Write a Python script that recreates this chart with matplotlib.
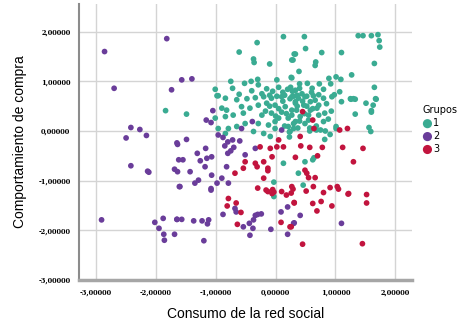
import matplotlib.pyplot as plt

# Grupo 1 (teal)
g1_x = [0.13, -0.31, -0.61, -0.37, -0.36, -0.10, 0.31, 0.27, 0.02, 0.26, -0.75, -0.52, -0.41, -0.30,
        -0.29, -1.01, -0.96, -0.72, -0.61, -0.40, -0.23,
        0.48, 1.38, 1.46, 1.60, 1.71, 1.73, 1.74, 0.50, 0.77, 1.10, 0.33, 0.29, 0.67, 0.66, 1.65, 0.39,
        1.27, 0.27, 0.89, 1.01, 1.09, 0.53, 0.73, 0.92, 1.65, 1.67, 0.61, 0.80, 1.07, 0.98, 1.25, 1.30,
        0.72, 0.52,
        -1.84, -1.49,
        -0.98, -0.84, -0.65, -0.48, -0.34, -0.20, -0.07, 0.10, 0.24, 0.33, -0.90, -0.82, -0.57, -0.43,
        -0.29, -0.15, -0.01, 0.16, 0.27, -1.01, -0.84, -0.71, -0.54, -0.23, -0.07, 0.05, 0.21, -0.96,
        -0.79, -0.65, -0.51, -0.29, -0.12, -0.01, 0.21, 0.30, -0.84, -0.37, -0.20, -0.09, 0.24, -0.01,
        0.27, 0.38, 0.49, 0.63, 0.80, 0.94, 0.33, 0.47, 0.58, 0.72, 0.35, 0.58, 0.69, 0.27, 0.41, 0.55,
        0.72, 0.33, 0.49, 0.80, 0.30,
        -0.15, -0.05, 0.05, 0.12, 0.20, 0.28, -0.10, 0.02, 0.15, 0.30, 0.25, 0.33, 0.40, 0.44, 0.36,
        1.26, 1.33, 1.10, 1.51, 1.68, 1.63, 1.60, 1.60, 1.33, 0.93, 0.82, 0.88, 1.01, 1.01, 1.56, 1.59,
        0.75, 0.83, 0.91, 0.82, 0.57, 0.57, 0.68, 0.23, 0.23, 0.37,
        0.64, 0.62, 0.49, 0.38, 0.46, 0.13, -0.03, -0.03,
        0.05, 0.12, 0.18, 0.36, 0.45, 0.52, 0.62, 0.40, 0.55, 0.10, -0.10, 0.00, 0.48, 0.66, 0.85,
        0.68, 0.15, -0.17, 0.40, 0.60]
g1_y = [1.90, 1.78, 1.59, 1.45, 1.38, 1.35, 1.55, 1.43, 1.03, 1.08, 1.00, 0.96, 1.00, 1.04,
        0.93, 0.84, 0.71, 0.86, 0.74, 0.81, 0.75,
        1.90, 1.92, 1.92, 1.92, 1.94, 1.82, 1.69, 1.66, 1.58, 1.58, 1.55, 1.43, 1.39, 1.32, 1.36, 1.20,
        1.13, 1.07, 1.06, 1.09, 1.04, 0.96, 0.95, 0.95, 0.88, 0.65, 0.86, 0.84, 0.79, 0.73, 0.65, 0.65,
        0.73, 0.70,
        0.41, 0.34,
        0.71, 0.66, 0.63, 0.65, 0.67, 0.69, 0.66, 0.69, 0.65, 0.59, 0.46, 0.42, 0.49, 0.46,
        0.52, 0.56, 0.52, 0.49, 0.42, 0.26, 0.29, 0.32, 0.36, 0.32, 0.36, 0.26, 0.26, 0.05,
        0.05, 0.09, 0.15, 0.15, 0.12, 0.05, 0.09, 0.15, -0.05, -0.01, -0.05, -0.11, -0.01, 0.19,
        0.69, 0.66, 0.69, 0.71, 0.66, 0.69, 0.56, 0.52, 0.59, 0.52, 0.42, 0.42, 0.46, 0.32, 0.29, 0.32,
        0.32, 0.19, 0.15, 0.19, 0.05,
        0.85, 0.80, 0.88, 0.78, 0.84, 0.80, 0.72, 0.70, 0.72, 0.70, 0.88, 0.82, 0.86, 0.75, 0.72,
        0.64, 0.64, 0.59, 0.56, 0.64, 0.52, 0.41, 0.38, 0.34, 0.40, 0.36, 0.24, 0.09, 0.05, 0.07, -0.01,
        0.02, 0.00, -0.07, -0.17, 0.06, 0.00, 0.02, -0.02, -0.12, 0.06,
        -0.54, -0.58, -0.62, -0.85, -1.09, -0.65, -1.03, -1.32,
        0.45, 0.60, 0.35, 0.50, 0.60, 0.50, 0.45, 0.20, 0.22, 0.38, 0.50, 0.30, 0.35, 0.62, 0.55,
        0.10, 0.10, 0.40, 0.95, 0.78]

# Grupo 2 (purple)
g2_x = [-1.82, -2.86, -2.70, -1.74, -1.57, -1.40,
        -2.42, -2.27, -2.50, -2.16, -1.65, -1.64, -2.42, -2.14, -2.12, -1.69, -1.64, -1.61, -1.62,
        -1.05, -1.16, -1.08, -1.49, -1.31, -1.17, -1.55, -1.26, -1.15, -1.07, -1.18, -1.43, -1.07,
        -0.82, -0.90, -1.29, -0.79, -0.98, -1.60, -1.35, -1.08, -0.96, -0.88, -0.85, -0.80, -0.72,
        -0.75, -0.80, -0.70, -0.60, -0.39, -0.57, -0.51, -0.34, 0.10,
        -2.91, -2.02, -1.88, -1.65, -1.95, -1.87, -1.86, -1.69,
        -1.65, -1.57, -1.37, -1.23, -1.12, -1.14, -1.20, -0.88, -0.68, -0.66, -0.54, -0.44, -0.37,
        -0.34, -0.30, -0.24, -0.38, -0.43, -0.08, 0.09, 0.20, 0.30, 0.20, -1.08,
        0.41, 0.31, 1.10]
g2_y = [1.86, 1.60, 0.86, 0.83, 1.03, 1.05,
        0.07, 0.03, -0.14, -0.09, -0.24, -0.27, -0.70, -0.81, -0.83, -0.77, -0.82, -1.12, -0.58,
        0.41, 0.22, 0.17, -0.17, -0.45, -0.35, -0.58, -0.60, -0.55, -0.52, -0.72, -0.82, -0.89,
        -0.72, -0.95, -0.99, -1.05, -1.05, -1.12, -1.05, -1.16, -0.08, -0.13, -0.30, -0.22, -0.18,
        -0.40, -0.45, -0.33, -0.20, 0.19, 0.05, -0.48, -0.35, 0.02,
        -1.79, -1.84, -1.76, -1.78, -1.96, -2.08, -2.20, -2.08,
        -1.78, -1.78, -1.81, -1.81, -1.79, -1.87, -2.21, -1.68, -1.56, -1.63, -1.93, -1.86, -1.79,
        -1.70, -1.68, -1.67, -1.96, -2.10, -1.98, -1.63, -1.53, -1.86, -2.08, -1.19,
        -1.70, -1.85, -1.86]

# Grupo 3 (red)
g3_x = [-0.26, -0.09, 0.02, 0.05, 0.13, -0.06, -0.51, -0.54, -0.34, -0.31, -0.20, -0.13, -0.13,
        -0.68, -0.20, -0.30, -0.05, -0.03,
        0.45, 0.62, 0.64, 1.07, 1.20, 0.41, 0.42, 0.57, 0.78, 1.12, 1.46, 0.33, 0.70, 1.30, 0.49,
        0.52, 0.55, 0.66, 0.27, 0.29, 0.63, 0.80, 0.91, 1.03, 1.05, 1.22, 1.52,
        0.51, 1.21, 1.52, 0.31, 0.62, 0.76, 0.69, 0.94, 0.26, 0.45, 1.45,
        -0.79, -0.81, -0.66, -0.58, -0.64, 0.09, 0.24, -0.13, -0.06, 0.10, 0.18, 0.26, 0.31, -0.16]
g3_y = [-0.32, -0.35, -0.32, -0.18, -0.32, -0.52, -0.62, -0.75, -0.65, -0.72, -0.62, -0.75, -0.80,
        -0.85, -0.95, -1.15, -1.18, -1.23,
        0.39, 0.22, 0.05, 0.02, 0.05, -0.11, -0.30, -0.33, -0.33, -0.33, -0.35, -0.53, -0.50, -0.62,
        -0.79, -0.85, -0.94, -0.94, -1.12, -1.17, -1.12, -1.24, -1.14, -1.12, -1.17, -1.26, -1.28,
        -1.21, -1.27, -1.45, -1.45, -1.46, -1.42, -1.61, -1.51, -1.93, -2.28, -2.27,
        -1.36, -1.51, -1.45, -1.64, -1.88, -1.84, -1.93, -1.22, -1.26, -1.22, -1.29, -1.25, -1.44, -1.19]

colors = ["#3aab92", "#6a3d9a", "#c2143e"]
groups = [(g1_x, g1_y, "1"), (g2_x, g2_y, "2"), (g3_x, g3_y, "3")]

fig = plt.figure(figsize=(4.72, 3.24), dpi=100)
ax = fig.add_axes([0.167, 0.136, 0.706, 0.852])

for (gx, gy, name), c in zip(groups, colors):
    ax.scatter(gx, gy, s=17, color=c, edgecolors="none", label=name, zorder=3)

ax.set_xlim(-3.29, 2.28)
ax.set_ylim(-3.0, 2.56)
ax.set_xticks([-3, -2, -1, 0, 1, 2])
ax.set_yticks([-3, -2, -1, 0, 1, 2])
ax.set_xticklabels(["-3,00000", "-2,00000", "-1,00000", "0,00000", "1,00000", "2,00000"])
ax.set_yticklabels(["-3,00000", "-2,00000", "-1,00000", "0,00000", "1,00000", "2,00000"])
for lab in ax.get_xticklabels() + ax.get_yticklabels():
    lab.set_fontfamily("DejaVu Serif")
    lab.set_fontweight("bold")
    lab.set_fontsize(4.8)
ax.tick_params(length=0, pad=6)
ax.grid(True, color="#d4d4d4", linewidth=1)
ax.set_axisbelow(True)

for s in ["top", "right"]:
    ax.spines[s].set_visible(False)
ax.spines["left"].set_color("#8c8c8c")
ax.spines["left"].set_linewidth(1.5)
ax.spines["bottom"].set_color("#a6a6a6")
ax.spines["bottom"].set_linewidth(2.5)

ax.set_xlabel("Consumo de la red social", fontfamily="Liberation Sans", fontsize=10, labelpad=8)
ax.set_ylabel("Comportamiento de compra", fontfamily="Liberation Sans", fontsize=10, labelpad=8)

leg = fig.legend(loc="upper left", bbox_to_anchor=(0.885, 0.69), title="Grupos", frameon=False,
                 fontsize=7, title_fontsize=7, handletextpad=0.1, labelspacing=0.3,
                 markerscale=1.6, borderpad=0, handlelength=1.0)
leg._legend_box.align = "left"

fig.savefig("out.png", dpi=100)
